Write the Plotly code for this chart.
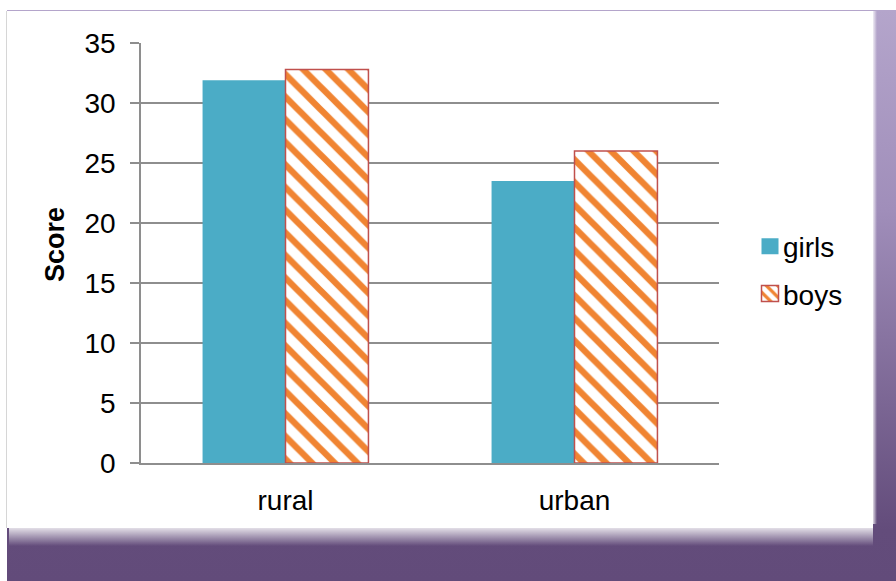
import base64
import plotly.graph_objects as go

# ---- data ----
categories = ["rural", "urban"]
girls = [31.9, 23.5]
boys = [32.8, 26.0]
series_names = ["girls", "boys"]
y_ticks = [0, 5, 10, 15, 20, 25, 30, 35]
y_title = "Score"

W, H = 896, 581
L, R, T, B = 141, 177, 43, 118  # plot area 141..719 x 43..463
pw, ph = W - L - R, H - T - B

FONT = "Liberation Sans, Arial, sans-serif"

svg = f'''<svg xmlns="http://www.w3.org/2000/svg" width="{W}" height="{H}" viewBox="0 0 {W} {H}">
<defs>
<linearGradient id="g" x1="0" y1="0" x2="0" y2="1">
<stop offset="0" stop-color="#B4A5CB"/>
<stop offset="0.35" stop-color="#A08EBA"/>
<stop offset="0.91" stop-color="#634C7B"/>
<stop offset="1" stop-color="#624B7A"/>
</linearGradient>
<linearGradient id="s" x1="0" y1="0" x2="0" y2="1">
<stop offset="0" stop-color="#ffffff" stop-opacity="1"/>
<stop offset="1" stop-color="#ffffff" stop-opacity="0"/>
</linearGradient>
<linearGradient id="r" x1="0" y1="0" x2="1" y2="0">
<stop offset="0" stop-color="#ffffff" stop-opacity="0.8"/>
<stop offset="1" stop-color="#ffffff" stop-opacity="0"/>
</linearGradient>
</defs>
<rect width="{W}" height="{H}" fill="#ffffff"/>
<rect x="7" y="10" width="{W-7}" height="{H-10}" fill="url(#g)"/>
<rect x="6" y="11" width="1" height="517" fill="#d6d6d6"/>
<rect x="9" y="524" width="864" height="22" fill="url(#s)"/>
<rect x="873" y="11" width="4" height="513" fill="url(#r)"/>
<rect x="7" y="11" width="866" height="517" fill="#ffffff"/>
</svg>'''
src = "data:image/svg+xml;base64," + base64.b64encode(svg.encode()).decode()

fig = go.Figure()
fig.add_bar(
    x=categories, y=girls, name=series_names[0], legendgroup="g1",
    marker=dict(color="#4BACC6", line=dict(width=0)),
)
fig.add_bar(
    x=categories, y=boys, name=series_names[1], legendgroup="g2",
    marker=dict(
        color="white",
        line=dict(color="#C0504D", width=1.5),
        pattern=dict(shape="\\", fgcolor="#F08432", bgcolor="white",
                     fgopacity=1, fillmode="replace",
                     size=16, solidity=0.4),
    ),
)

fig.update_layout(
    width=W, height=H,
    margin=dict(l=L, r=R, t=T, b=B, autoexpand=False),
    paper_bgcolor="white",
    plot_bgcolor="rgba(0,0,0,0)",
    barmode="group",
    bargap=0.426,
    bargroupgap=0,
    font=dict(family=FONT, size=28, color="black"),
    showlegend=True,
    legend=dict(
        x=(743 - L) / pw, xanchor="left",
        y=(H - B - 270) / ph, yanchor="middle",
        bgcolor="rgba(0,0,0,0)",
        font=dict(family=FONT, size=28, color="black"),
        tracegroupgap=8,
        traceorder="grouped",
    ),
    images=[dict(
        source=src, xref="paper", yref="paper",
        x=-L / pw, y=(H - B) / ph, sizex=W / pw, sizey=H / ph,
        xanchor="left", yanchor="top", sizing="stretch", layer="below",
    )],
    annotations=[dict(
        text=f"<b>{y_title}</b>", xref="paper", yref="paper",
        x=(55 - L) / pw, y=(H - B - 245) / ph,
        xanchor="center", yanchor="middle", textangle=-90,
        showarrow=False, font=dict(family=FONT, size=27, color="black"),
    )],
)

fig.update_yaxes(
    range=[0, 35], tickvals=y_ticks, ticktext=[str(v) for v in y_ticks],
    showgrid=True, gridcolor="#8E8E8E", gridwidth=1.5,
    showline=True, linecolor="#8E8E8E", linewidth=1.5,
    ticks="outside", ticklen=9, tickcolor="#8E8E8E", tickwidth=1.5,
    ticklabelstandoff=9,
    zeroline=False,
    tickfont=dict(family=FONT, size=28),
    fixedrange=True,
)
fig.update_xaxes(
    showline=True, linecolor="#8E8E8E", linewidth=1.5,
    ticks="", showgrid=False,
    tickfont=dict(family=FONT, size=28),
    ticklabelstandoff=12,
    fixedrange=True,
)

post = """
document.body.style.margin='0';
document.body.style.overflow='hidden';
document.querySelectorAll('.legendpoints path').forEach(function(p){
  var d = p.getAttribute('d') || '';
  if (d.indexOf('M6,6H-6V-6H6Z') === 0) {
    p.setAttribute('d','M15.5,8H-1.5V-8H15.5Z');
  }
});
"""

fig.write_html("out.html", config=dict(displayModeBar=False), post_script=post)
